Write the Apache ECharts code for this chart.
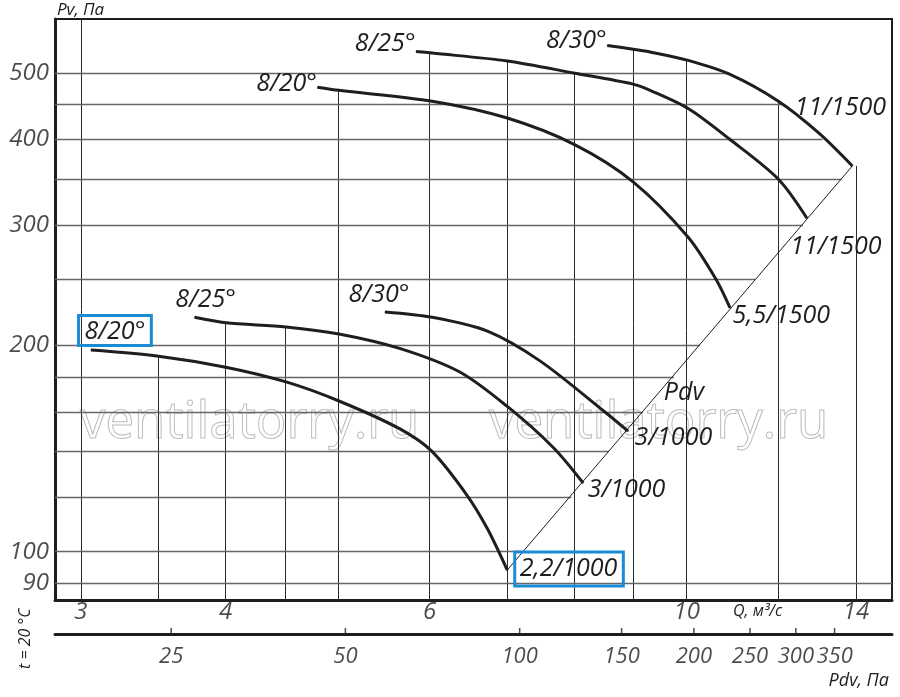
<!DOCTYPE html>
<html>
<head>
    <meta charset="UTF-8">
    <title>ECharts</title>
    <script src="https://cdn.jsdelivr.net/npm/echarts@6/dist/echarts.min.js"></script>
    <style>
        html, body { margin: 0; width: 100%; height: 100%; background: #fff; }
        #main { width: 900px; height: 697px; }
    </style>
</head>
<body>
<div id="main"></div>
<script type="text/javascript">
    // tick labels
    var qTicks = [3, 4, 6, 10, 14];
    var pvTicks = [90, 100, 200, 300, 400, 500];
    var pdvTicks = [25, 50, 100, 150, 200, 250, 300, 350];

    // grid lines and where each one stops (at the curves / Pdv line)
    var qGrid = [3, 3.5, 4, 4.5, 5, 6, 7, 8, 9, 10, 12, 14];
    var qGridTop = [600, 193, 216, 213, 472, 535, 521, 500, 542, 521, 455, 366];
    var pvGrid = [90, 100, 120, 140, 160, 180, 200, 250, 300, 350, 400, 450, 500];
    var pvGridEnd = [15.04, 7.22, 7.95, 8.57, 9.17, 9.75, 10.27, 11.46, 12.6, 13.6, 13.1, 12.1, 10.9];

    // curves, [Q m3/s, Pv Pa]
    var hi20 = [[4.80, 477], [5.01, 472], [6.03, 455], [7.00, 430], [8.01, 393], [8.99, 347], [10.03, 288], [10.6, 250], [10.9, 227]];
    var hi25 = [[5.84, 538], [6.03, 535], [7.00, 521], [8.01, 500], [8.99, 482], [9.30, 472], [10.03, 444], [10.9, 400], [12.0, 350], [12.7, 307]];
    var hi30 = [[8.54, 549], [8.99, 542], [9.30, 537], [10.03, 522], [10.9, 498], [12.0, 455], [13.0, 409], [13.9, 366]];
    var lo20 = [[3.06, 197], [3.50, 193], [4.00, 186], [4.51, 177], [5.01, 166], [5.66, 151], [6.03, 140], [6.46, 121], [6.73, 108], [7.00, 94]];
    var lo25 = [[3.76, 220], [4.00, 216], [4.51, 213], [5.01, 208], [5.66, 198], [6.37, 183], [7.00, 163], [7.67, 142], [8.14, 126]];
    var lo30 = [[5.49, 224], [6.03, 220], [6.73, 210], [7.47, 190], [8.50, 160], [8.90, 150]];
    var pdvLine = [[7.00, 94], [13.9, 366]];

    var qMin = 2.849, qMax = 15.04, pvMin = 85, pvMax = 600, pdvMin = 15.75, pdvMax = 439.8;

    var FONT = '"Open Sans", "Noto Sans", sans-serif';
    var INK = '#1e1e1e';
    var BLUE = '#1b8bd6';

    function txt(text, pos, off, dist, boxed, pad) {
        var l = {
            show: true, formatter: text, position: pos, offset: off, distance: dist,
            color: INK, fontFamily: FONT, fontStyle: 'italic', fontSize: 25
        };
        if (boxed) {
            l.borderColor = BLUE; l.borderWidth = 3; l.padding = pad || [4, 6, 1, 6];
        }
        return l;
    }

    function curve(data, first, last) {
        return {
            type: 'line', smooth: 0.3, clip: false,
            symbol: 'circle', symbolSize: 1, showAllSymbol: true, silent: true,
            lineStyle: { color: INK, width: 3 }, itemStyle: { color: INK },
            label: { show: false },
            data: data.map(function (p, i) {
                var it = { value: p };
                if (i === 0 && first) it.label = first;
                if (i === data.length - 1 && last) it.label = last;
                return it;
            })
        };
    }

    var gridSegs = [];
    qGrid.forEach(function (q, i) {
        gridSegs.push([{ coord: [q, pvMin] }, { coord: [q, qGridTop[i]], lineStyle: { color: '#2a2a2a', width: 1, type: 'solid' } }]);
    });
    pvGrid.forEach(function (p, i) {
        gridSegs.push([{ coord: [qMin, p] }, { coord: [pvGridEnd[i], p], lineStyle: { color: '#666', width: 1.4, type: 'solid' } }]);
    });

    var myChart = echarts.init(document.getElementById('main'));

    var option = {
        animation: false,
        grid: [
            { left: 55, right: 8, top: 19, bottom: 97, show: true, borderColor: INK, borderWidth: 2 },
            { left: 55, right: 8, top: 628, height: 6 }
        ],
        xAxis: [
            { type: 'log', gridIndex: 0, min: qMin, max: qMax,
              axisLine: { show: true, lineStyle: { color: INK, width: 3 } },
              axisTick: { show: false }, axisLabel: { show: false }, splitLine: { show: false } },
            { type: 'log', gridIndex: 1, min: pdvMin, max: pdvMax,
              axisLine: { show: true, lineStyle: { color: INK, width: 3 } },
              axisTick: { show: false }, axisLabel: { show: false }, splitLine: { show: false } }
        ],
        yAxis: [
            { type: 'log', gridIndex: 0, min: pvMin, max: pvMax,
              axisLine: { show: true, lineStyle: { color: INK, width: 3 } },
              axisTick: { show: false }, axisLabel: { show: false }, splitLine: { show: false } },
            { type: 'value', gridIndex: 1, min: 0, max: 1, show: false }
        ],
        graphic: [
            { type: 'text', left: 57, top: 2, style: { text: 'Pv, Па', font: 'italic 17px ' + FONT, fill: INK } },
            { type: 'text', left: 733, top: 603, style: { text: 'Q, м³/с', font: 'italic 16px ' + FONT, fill: INK } },
            { type: 'text', right: 11, top: 672, style: { text: 'Pdv, Па', font: 'italic 18px ' + FONT, fill: INK } },
            { type: 'text', x: 17, y: 669, rotation: Math.PI / 2, style: { text: 't = 20 °C', font: 'italic 16px ' + FONT, fill: INK } },
            { type: 'text', x: 80, y: 398, z: -1, style: { text: 'ventilatorry.ru', font: '51px ' + FONT, fill: 'rgba(0,0,0,0)', stroke: '#bdbdbd', lineWidth: 1 } },
            { type: 'text', x: 489, y: 398, z: -1, style: { text: 'ventilatorry.ru', font: '51px ' + FONT, fill: 'rgba(0,0,0,0)', stroke: '#bdbdbd', lineWidth: 1 } }
        ],
        series: [
            {
                type: 'line', data: pdvLine, symbol: 'none', silent: true, clip: false,
                lineStyle: { color: INK, width: 1 },
                markLine: { silent: true, symbol: 'none', label: { show: false }, data: gridSegs, z: 1 },
                markPoint: {
                    silent: true, symbolSize: 0,
                    data: [{ coord: [9.5, 171], label: txt('Pdv', 'right', [3, 1], 0) }]
                }
            },
            curve(hi20, txt('8/20°', 'left', [2, -3], 2), txt('5,5/1500', 'right', [-1, 8], 3)),
            curve(hi25, txt('8/25°', 'left', [2, -8], 2), txt('11/1500', 'bottom', [29, 13], 3)),
            curve(hi30, txt('8/30°', 'left', [2, -5], 2), txt('11/1500', 'top', [-12, -42], 3)),
            curve(lo20, txt('8/20°', 'top', [24, 0], 4, true), txt('2,2/1000', 'right', [2, -1], 5, true, [5, 6, 4, 5])),
            curve(lo25, txt('8/25°', 'top', [11, -1], 3), txt('3/1000', 'right', [0, 7], 4)),
            curve(lo30, txt('8/30°', 'top', [-6, -1], 3), txt('3/1000', 'right', [0, 7], 6)),
            {
                type: 'scatter', silent: true, clip: false, symbolSize: 0,
                data: qTicks.map(function (q) { return [q, pvMin]; }),
                label: { show: true, position: 'bottom', distance: 0, formatter: function (p) { return p.value[0]; },
                         color: INK, fontFamily: FONT, fontStyle: 'italic', fontSize: 24 }
            },
            {
                type: 'scatter', silent: true, clip: false, symbolSize: 0,
                data: pvTicks.map(function (p) { return [qMin, p]; }),
                label: { show: true, position: 'left', distance: 6, formatter: function (p) { return p.value[1]; },
                         color: INK, fontFamily: FONT, fontStyle: 'italic', fontSize: 24 }
            },
            {
                type: 'scatter', silent: true, clip: false, xAxisIndex: 1, yAxisIndex: 1,
                symbol: 'rect', symbolSize: [1.5, 6], symbolOffset: [0, -3], itemStyle: { color: INK },
                data: pdvTicks.map(function (v) { return [v, 0]; }),
                label: { show: true, position: 'bottom', distance: 12, formatter: function (p) { return p.value[0]; },
                         color: INK, fontFamily: FONT, fontStyle: 'italic', fontSize: 22 }
            }
        ]
    };

    myChart.setOption(option);
</script>
</body>
</html>
